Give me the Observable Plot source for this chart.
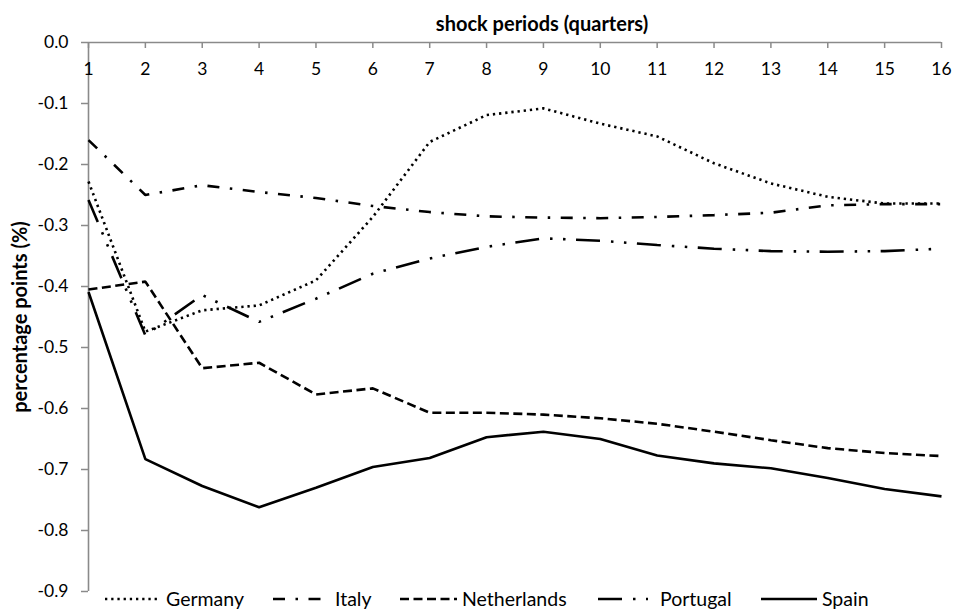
<!DOCTYPE html>
<html>
<head>
<meta charset="utf-8">
<script src="https://cdn.jsdelivr.net/npm/d3@7"></script>
<script src="https://cdn.jsdelivr.net/npm/@observablehq/plot@0.6"></script>
<style>
  body { margin: 0; background: #fff; font-family: Lato, "Open Sans", sans-serif; }
  #wrap { position: relative; width: 955px; height: 610px; overflow: hidden; }
  #legend { position: absolute; left: 0; top: 588px; width: 955px; height: 22px; font-size: 19.5px; color: #000; }
  .lg { position: absolute; top: 0; height: 22px; line-height: 22px; white-space: nowrap; }
  .lg svg { position: absolute; top: 0; }
</style>
</head>
<body>
<div id="wrap">
  <div id="chart"></div>
  <div id="legend"></div>
</div>
<script>
// ---- data ----
const periods = [1, 2, 3, 4, 5, 6, 7, 8, 9, 10, 11, 12, 13, 14, 15, 16];
const countries = ["Germany", "Italy", "Netherlands", "Portugal", "Spain"];
const germany     = [-0.228, -0.474, -0.439, -0.431, -0.390, -0.286, -0.163, -0.119, -0.108, -0.133, -0.154, -0.198, -0.231, -0.253, -0.264, -0.264];
const italy       = [-0.160, -0.250, -0.234, -0.245, -0.255, -0.268, -0.278, -0.285, -0.287, -0.288, -0.286, -0.283, -0.279, -0.267, -0.265, -0.265];
const netherlands = [-0.405, -0.392, -0.534, -0.525, -0.577, -0.567, -0.607, -0.607, -0.610, -0.616, -0.625, -0.638, -0.652, -0.665, -0.673, -0.678];
const portugal    = [-0.258, -0.480, -0.414, -0.458, -0.420, -0.379, -0.354, -0.335, -0.321, -0.325, -0.332, -0.338, -0.342, -0.343, -0.342, -0.338];
const spain       = [-0.409, -0.683, -0.727, -0.762, -0.730, -0.696, -0.681, -0.647, -0.638, -0.650, -0.677, -0.690, -0.698, -0.714, -0.732, -0.744];
const xTicks = [1, 2, 3, 4, 5, 6, 7, 8, 9, 10, 11, 12, 13, 14, 15, 16];
const yTicks = [0.0, -0.1, -0.2, -0.3, -0.4, -0.5, -0.6, -0.7, -0.8, -0.9];
const xTitle = "shock periods (quarters)";
const yTitle = "percentage points (%)";

// ---- styles ----
const seriesValues = [germany, italy, netherlands, portugal, spain];
const dashes = {
  Germany: "2.3,3.9",
  Italy: "12,10.5,2.5,10.5",
  Netherlands: "9,4.5",
  Portugal: "24,11,2.5,10.5,2.5,10.5",
  Spain: null
};
const W = 955, H = 610, ML = 88, MR = 14, MT = 42, MB = 19;
const axisGray = "#8a8a8a";
const LW = 2.6;
const tickFont = 17.5, titleFont = 20;

const rows = [];
countries.forEach((c, k) => seriesValues[k].forEach((v, i) => rows.push({country: c, period: periods[i], value: v})));

const lineMarks = countries.map(c => Plot.line(rows.filter(r => r.country === c), {
  x: "period", y: "value", stroke: "#000", strokeWidth: LW,
  strokeDasharray: dashes[c] || undefined, strokeLinejoin: "miter", strokeLinecap: "butt"
}));

const chart = Plot.plot({
  width: W, height: H,
  marginLeft: ML, marginRight: MR, marginTop: MT, marginBottom: MB,
  style: { fontFamily: "Lato, 'Open Sans', sans-serif", fontSize: tickFont + "px", color: "#000", background: "#fff", overflow: "visible" },
  x: { domain: [1, 16], axis: null },
  y: { domain: [-0.9, 0], axis: null },
  marks: [
    // y axis: ticks + labels
    Plot.axisY(yTicks, { anchor: "left", tickSize: 7, tickPadding: 13, stroke: axisGray, strokeWidth: 1.5, fill: "#000",
      tickFormat: d => d.toFixed(1), label: null, fontSize: tickFont }),
    // x ticks (pointing down, inside)
    Plot.tickX(xTicks, { x: d => d, stroke: axisGray, strokeWidth: 1.5, insetBottom: H - MT - MB - 6 }),
    // axis lines
    Plot.ruleY([0], { stroke: axisGray, strokeWidth: 1.6 }),
    Plot.ruleX([1], { stroke: axisGray, strokeWidth: 1.6 }),
    // x tick labels below the top axis line
    Plot.text(xTicks, { x: d => d, frameAnchor: "top", dy: 27, lineAnchor: "middle", text: d => String(d), fontSize: tickFont, fill: "#000" }),
    // titles
    Plot.text([xTitle], { frameAnchor: "top", dx: 27, dy: -18, lineAnchor: "middle", textAnchor: "middle", fontWeight: "bold", fontSize: titleFont, fill: "#000" }),
    Plot.text([yTitle], { frameAnchor: "left", dx: -68, rotate: -90, textAnchor: "middle", lineAnchor: "middle", fontWeight: "bold", fontSize: titleFont, fill: "#000" }),
    ...lineMarks
  ]
});
document.getElementById("chart").appendChild(chart);

// ---- legend ----
const legendPos = {
  Germany:     { s: 105, w: 52, t: 166 },
  Italy:       { s: 273, w: 49, t: 335 },
  Netherlands: { s: 400, w: 57, t: 462 },
  Portugal:    { s: 598, w: 50, t: 660 },
  Spain:       { s: 761, w: 56, t: 822 }
};
const legend = document.getElementById("legend");
countries.forEach(c => {
  const p = legendPos[c];
  const item = document.createElement("div");
  item.className = "lg";
  item.style.left = p.s + "px";
  const da = dashes[c] ? `stroke-dasharray="${dashes[c]}"` : "";
  item.innerHTML = `<svg width="${p.w}" height="22" style="left:0"><line x1="0" x2="${p.w}" y1="11" y2="11" stroke="#000" stroke-width="${LW}" ${da}/></svg>` +
    `<span style="position:absolute;left:${p.t - p.s}px;top:0">${c}</span>`;
  legend.appendChild(item);
});
</script>
</body>
</html>
